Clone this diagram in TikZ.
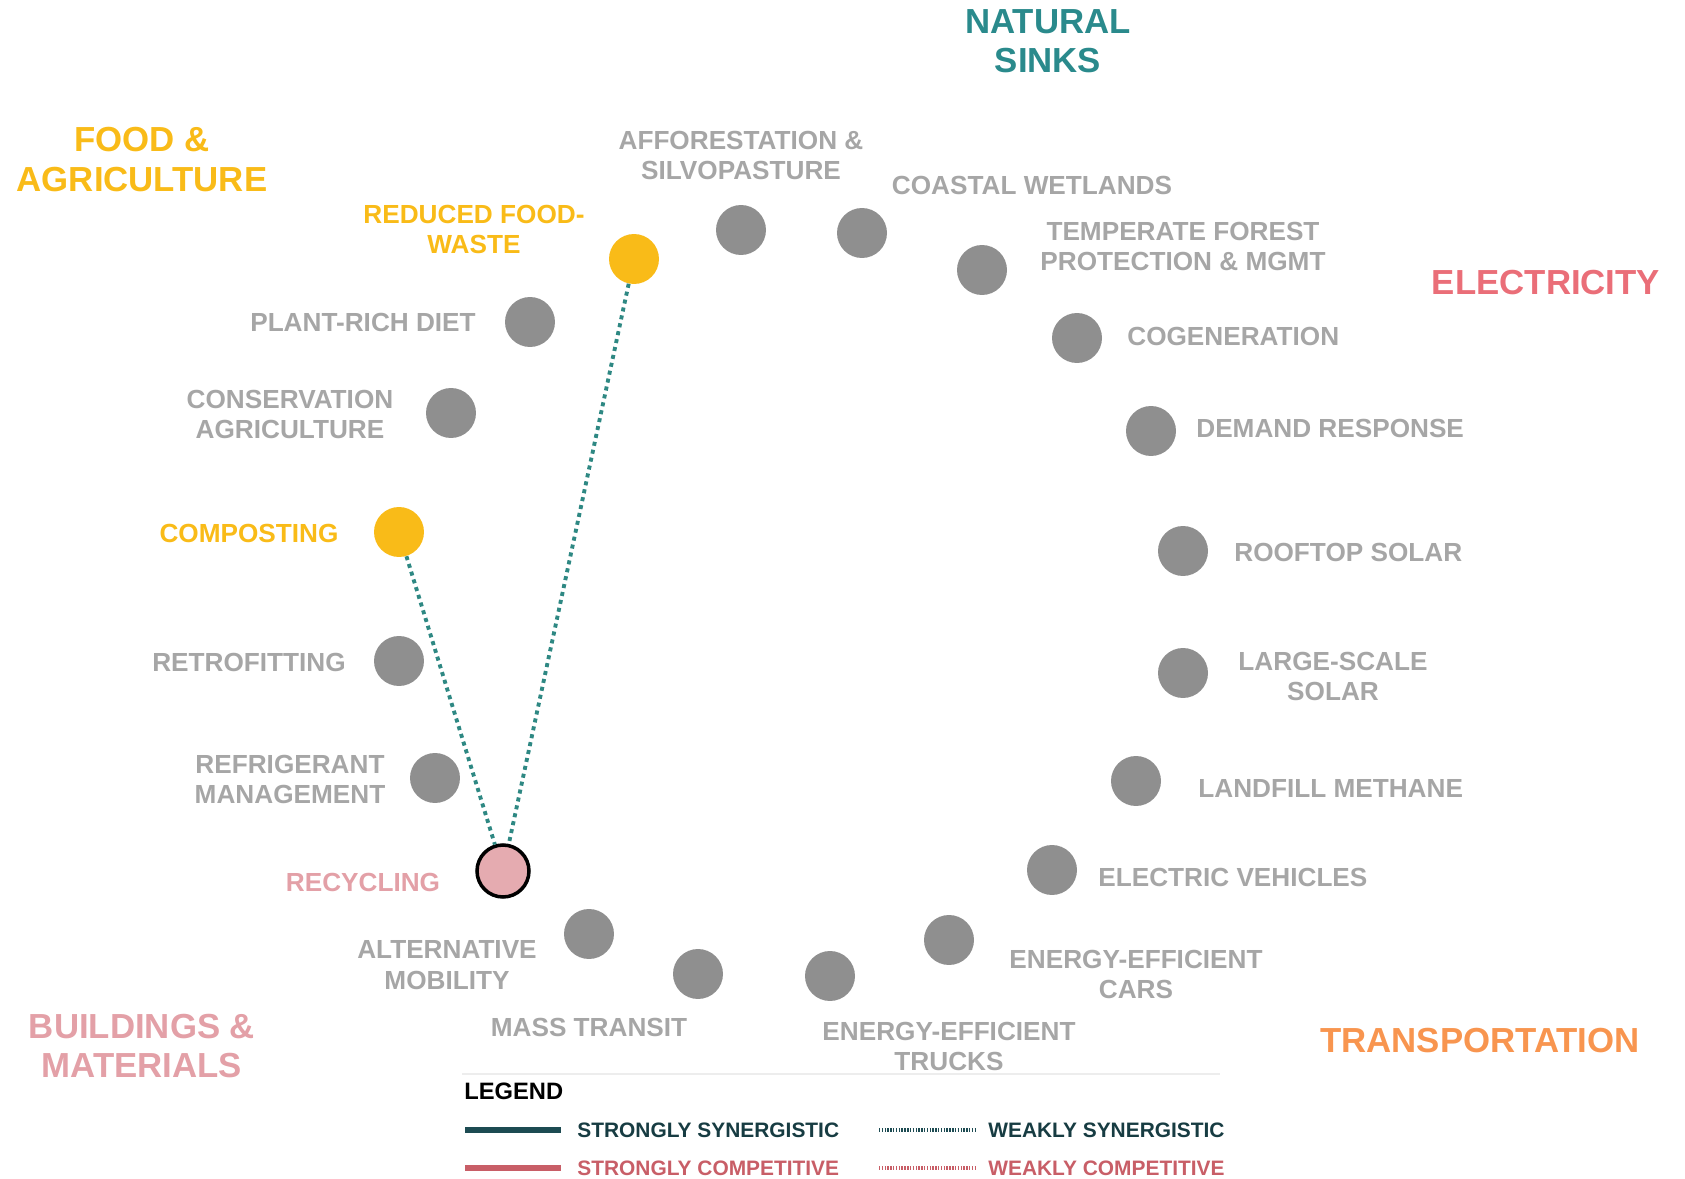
\documentclass[tikz,border=0pt]{standalone}
\usepackage{fontspec}
\setmainfont{Liberation Sans}
\definecolor{dotgray}{HTML}{8F8F8F}
\definecolor{txtgray}{HTML}{A6A6A6}
\definecolor{foodgold}{HTML}{F9BB18}
\definecolor{sinkteal}{HTML}{2A8A8C}
\definecolor{elecred}{HTML}{EA6E78}
\definecolor{transorange}{HTML}{F8954F}
\definecolor{buildpink}{HTML}{E3A0A7}
\definecolor{recpink}{HTML}{E5ABB0}
\definecolor{synteal}{HTML}{2E8883}
\definecolor{legteal}{HTML}{1D4B52}
\definecolor{legred}{HTML}{C85E67}
\tikzset{
  sol/.style={circle, inner sep=0pt, minimum size=1cm, fill=dotgray},
  lbl/.style={inner sep=0pt, text=txtgray, align=center,
    font=\fontsize{14.9}{17.6}\selectfont\bfseries},
  cat/.style={inner sep=0pt, align=center,
    font=\fontsize{19.8}{22.4}\selectfont\bfseries},
  leg/.style={inner sep=0pt, anchor=west,
    font=\fontsize{11.9}{14}\selectfont\bfseries},
  weaksyn/.style={synteal, line width=2.2pt, dash pattern=on 2.3pt off 2.3pt},
  legdots/.style={line width=1.8pt, dash pattern=on 0.8pt off 0.8pt}
}
\begin{document}
\begin{tikzpicture}[x=0.02cm, y=-0.02cm]
    \useasboundingbox (0,0) rectangle (1685,1179);

    % 1. Sector headings
    \node[cat, text=sinkteal] (hsinks) at (1048,41) {NATURAL\\SINKS};
    \node[cat, text=foodgold] (hfood) at (142,159.5) {FOOD \&\\AGRICULTURE};
    \node[cat, text=elecred] (helec) at (1546,283) {ELECTRICITY};
    \node[cat, text=transorange] (htrans) at (1480,1041) {TRANSPORTATION};
    \node[cat, text=buildpink] (hbuild) at (142,1046) {BUILDINGS \&\\MATERIALS};

    % 2. Solutions around the ring
    \foreach \nm/\x/\y in {afforest/741/230, wetlands/862/233, temperate/982/270,
        cogen/1077/338, demand/1151/431, rooftop/1183/551, largesolar/1183/673,
        landfill/1136/781, ev/1052/870, eecars/949/940, eetrucks/830/976,
        transit/698/974, altmob/589/934, refrig/435/778, retrofit/399/661,
        conserv/451/413, plantrich/530/322} {
        \node[sol] (\nm) at (\x,\y) {};
    }
    \node[sol, fill=foodgold] (foodwaste) at (634,259) {};
    \node[sol, fill=foodgold] (compost) at (399,532) {};
    \node[circle, inner sep=0pt, minimum size=1.04cm, fill=recpink, draw=black,
        line width=2pt] (recyc) at (503,871) {};

    % 3. Labels
    \node[lbl] (tafforest) at (741,155.5) {AFFORESTATION \&\\SILVOPASTURE};
    \node[lbl] (twetlands) at (1032,185) {COASTAL WETLANDS};
    \node[lbl] (ttemperate) at (1183,246.5) {TEMPERATE FOREST\\PROTECTION \& MGMT};
    \node[lbl, anchor=west] (tcogen) at (1127,336) {COGENERATION};
    \node[lbl, anchor=west] (tdemand) at (1196,428) {DEMAND RESPONSE};
    \node[lbl, anchor=west] (trooftop) at (1234,552) {ROOFTOP SOLAR};
    \node[lbl] (tlargesolar) at (1333,676.5) {LARGE-SCALE\\SOLAR};
    \node[lbl, anchor=west] (tlandfill) at (1198,788) {LANDFILL METHANE};
    \node[lbl, anchor=west] (tev) at (1098,877) {ELECTRIC VEHICLES};
    \node[lbl] (teecars) at (1136,974.5) {ENERGY-EFFICIENT\\CARS};
    \node[lbl] (teetrucks) at (949,1046.5) {ENERGY-EFFICIENT\\TRUCKS};
    \node[lbl] (ttransit) at (589,1027) {MASS TRANSIT};
    \node[lbl] (taltmob) at (447,965.5) {ALTERNATIVE\\MOBILITY};
    \node[lbl, text=buildpink] (trecyc) at (363,882) {RECYCLING};
    \node[lbl] (trefrig) at (290,779.5) {REFRIGERANT\\MANAGEMENT};
    \node[lbl] (tretrofit) at (249,662) {RETROFITTING};
    \node[lbl, text=foodgold] (tcompost) at (249,533) {COMPOSTING};
    \node[lbl] (tconserv) at (290,414.5) {CONSERVATION\\AGRICULTURE};
    \node[lbl] (tplantrich) at (363,322) {PLANT-RICH DIET};
    \node[lbl, text=foodgold] (tfoodwaste) at (474,229.5) {REDUCED FOOD-\\WASTE};

    % 4. Interactions
    \draw[weaksyn] (compost) -- (recyc);
    \draw[weaksyn] (foodwaste) -- (recyc);

    % 5. Legend
    \coordinate (sepl) at (462,1074);
    \coordinate (sepr) at (1220,1074);
    \draw[black!7, line width=1pt] (sepl) -- (sepr);
    \node[leg, text=black, font=\fontsize{13.5}{16}\selectfont\bfseries] (legtitle) at (464,1091) {LEGEND};
    \coordinate (ssl) at (465,1130); \coordinate (ssr) at (561,1130);
    \coordinate (scl) at (465,1168); \coordinate (scr) at (561,1168);
    \coordinate (wsl) at (879,1130); \coordinate (wsr) at (975,1130);
    \coordinate (wcl) at (879,1168); \coordinate (wcr) at (975,1168);
    \draw[legteal, line width=3pt] (ssl) -- (ssr);
    \draw[legred, line width=3pt] (scl) -- (scr);
    \draw[legteal, legdots] (wsl) -- (wsr);
    \draw[legred, legdots] (wcl) -- (wcr);
    \node[leg, text=legteal!80!black] (tss) at (577,1130) {STRONGLY SYNERGISTIC};
    \node[leg, text=legred] (tsc) at (577,1168) {STRONGLY COMPETITIVE};
    \node[leg, text=legteal!80!black] (tws) at (988,1130) {WEAKLY SYNERGISTIC};
    \node[leg, text=legred] (twc) at (988,1168) {WEAKLY COMPETITIVE};
\end{tikzpicture}
\end{document}
